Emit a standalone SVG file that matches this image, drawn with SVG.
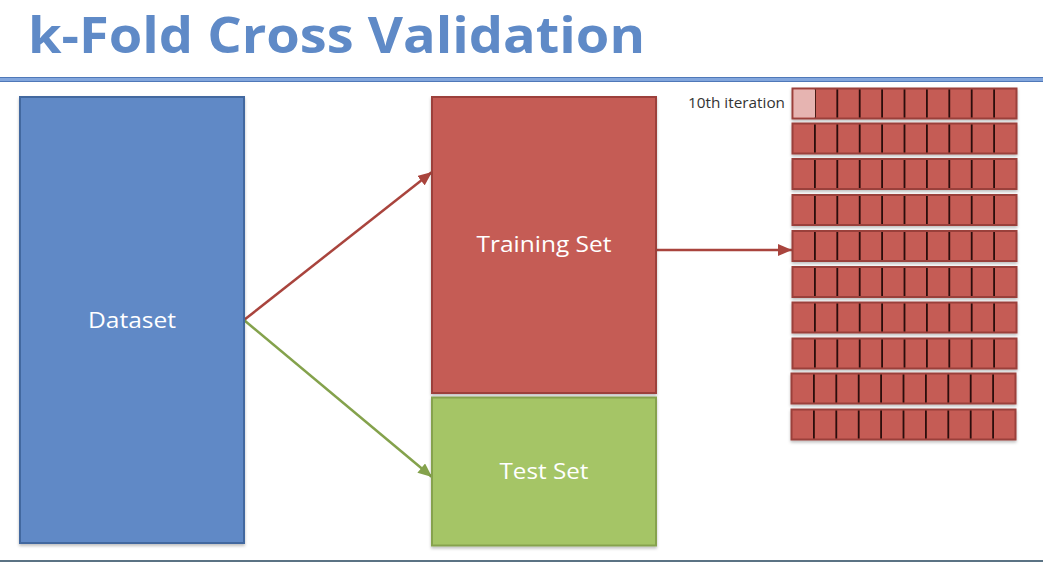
<svg xmlns="http://www.w3.org/2000/svg" width="1043" height="562" viewBox="0 0 1043 562">
<style>
.lbl{font-family:"Open Sans","Liberation Sans",sans-serif;font-size:22px;fill:#ffffff;text-anchor:middle}
.row{fill:#c55c55;stroke:#9a3f3a;stroke-width:2}
.div{stroke:#2a0a08;stroke-width:1.8}
</style>
<defs>
<filter id="sh" x="-10%" y="-10%" width="120%" height="120%">
<feDropShadow dx="0" dy="2" stdDeviation="1.5" flood-color="#000" flood-opacity="0.25"/>
</filter>
<marker id="ar" viewBox="0 0 14 12" refX="14" refY="6" markerWidth="14" markerHeight="12" markerUnits="userSpaceOnUse" orient="auto">
<path d="M0,0 L14,6 L0,12 Z" fill="#a9443d"/>
</marker>
<marker id="ag" viewBox="0 0 14 12" refX="14" refY="6" markerWidth="14" markerHeight="12" markerUnits="userSpaceOnUse" orient="auto">
<path d="M0,0 L14,6 L0,12 Z" fill="#84a24c"/>
</marker>
<g id="rowdef">
<rect class="row" x="0" y="0" width="224" height="30"/>
<line class="div" x1="22.4" y1="1" x2="22.4" y2="29"/>
<line class="div" x1="44.8" y1="1" x2="44.8" y2="29"/>
<line class="div" x1="67.2" y1="1" x2="67.2" y2="29"/>
<line class="div" x1="89.6" y1="1" x2="89.6" y2="29"/>
<line class="div" x1="112" y1="1" x2="112" y2="29"/>
<line class="div" x1="134.4" y1="1" x2="134.4" y2="29"/>
<line class="div" x1="156.8" y1="1" x2="156.8" y2="29"/>
<line class="div" x1="179.2" y1="1" x2="179.2" y2="29"/>
<line class="div" x1="201.6" y1="1" x2="201.6" y2="29"/>
</g>
</defs>
<rect width="1043" height="562" fill="#ffffff"/>
<g id="title">
<text x="28" y="53" font-family="Open Sans, Liberation Sans, sans-serif" font-weight="bold" font-size="50" fill="#5f8ac7" textLength="617" lengthAdjust="spacingAndGlyphs">k-Fold Cross Validation</text>
</g>
<rect x="-1" y="77.5" width="1045" height="4" fill="#82a6dd" stroke="#4f78b8" stroke-width="1"/>
<rect x="0" y="560" width="1043" height="2" fill="#5b7384"/>
<g id="connectors" fill="none" stroke-width="2.5">
<line x1="244" y1="320" x2="432" y2="172" stroke="#a9443d" marker-end="url(#ar)"/>
<line x1="244" y1="320" x2="432" y2="477" stroke="#84a24c" marker-end="url(#ag)"/>
<line x1="657" y1="250" x2="792" y2="250" stroke="#a9443d" marker-end="url(#ar)"/>
</g>
<g id="dataset">
<rect x="20" y="97" width="224" height="446" fill="#6089c6" stroke="#43679f" stroke-width="2" filter="url(#sh)"/>
<text class="lbl" x="132" y="328" textLength="88" lengthAdjust="spacingAndGlyphs">Dataset</text>
</g>
<g id="training">
<rect x="432" y="97" width="224" height="296" fill="#c55c55" stroke="#9c3f3a" stroke-width="2" filter="url(#sh)"/>
<text class="lbl" x="544" y="252" textLength="135" lengthAdjust="spacingAndGlyphs">Training Set</text>
</g>
<g id="test">
<rect x="432" y="397.5" width="224" height="148" fill="#a5c566" stroke="#86a24e" stroke-width="2" filter="url(#sh)"/>
<text class="lbl" x="544" y="479" textLength="89" lengthAdjust="spacingAndGlyphs">Test Set</text>
</g>
<g id="folds" filter="url(#sh)">
<use href="#rowdef" x="792.5" y="88.5"/>
<rect x="793.5" y="89.5" width="21.5" height="28" fill="#e6b4b1"/>
<use href="#rowdef" x="792.5" y="123.5"/>
<use href="#rowdef" x="792.5" y="159"/>
<use href="#rowdef" x="792.5" y="195"/>
<use href="#rowdef" x="792.5" y="231"/>
<use href="#rowdef" x="792.5" y="267"/>
<use href="#rowdef" x="792.5" y="302.5"/>
<use href="#rowdef" x="792.5" y="338.5"/>
<use href="#rowdef" x="791.5" y="373.5"/>
<use href="#rowdef" x="791.5" y="409.5"/>
</g>
<g id="iteration-label">
<text x="785" y="107.5" font-family="Open Sans, Liberation Sans, sans-serif" font-size="14" fill="#333333" text-anchor="end" textLength="97" lengthAdjust="spacingAndGlyphs">10th iteration</text>
</g>
</svg>
